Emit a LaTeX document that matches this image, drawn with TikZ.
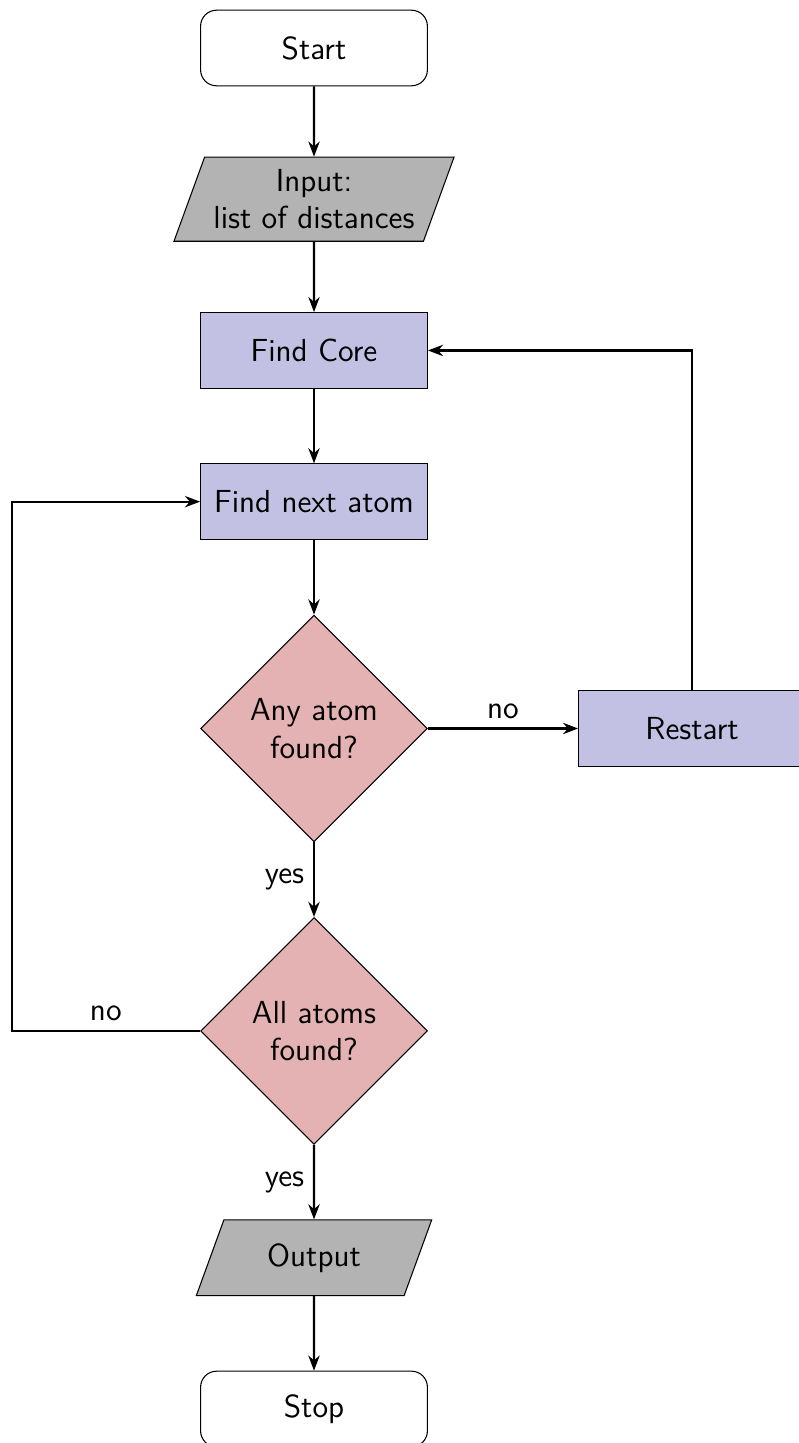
\documentclass[tikz,border=0pt]{standalone}
\usetikzlibrary{shapes.geometric,arrows.meta}
\definecolor{procfill}{RGB}{194,193,227}
\definecolor{decfill}{RGB}{228,178,178}
\definecolor{iofill}{RGB}{179,179,179}
\begin{document}
\begin{tikzpicture}[
  font=\sffamily\large,
  startstop/.style={rectangle, rounded corners=6pt, draw, minimum width=3cm, minimum height=1cm, align=center},
  process/.style={rectangle, draw, fill=procfill, minimum width=3cm, minimum height=1cm, align=center},
  io/.style={trapezium, trapezium left angle=70, trapezium right angle=110, draw, fill=iofill, minimum width=3cm, minimum height=1cm, align=center},
  decision/.style={diamond, draw, fill=decfill, minimum width=3cm, minimum height=3cm, aspect=1, inner sep=0pt, align=center},
  arr/.style={thick, -{Stealth[length=2mm,width=1.5mm]}}
]
\useasboundingbox (-4.153,0.635) rectangle (6.402,-18.45);
\node[startstop] (start) at (0,0) {Start};
\node[io, inner ysep=4.6pt] (in) at (0,-2) {Input:\\list of distances};
\node[process] (core) at (0,-4) {Find Core};
\node[process] (next) at (0,-6) {Find next atom};
\node[decision] (any) at (0,-9) {Any atom\\found?};
\node[process] (restart) at (5,-9) {Restart};
\node[decision] (all) at (0,-13) {All atoms\\found?};
\node[io] (out) at (0,-16) {Output};
\node[startstop] (stop) at (0,-18) {Stop};
\coordinate (lt) at (-4,-13);
\coordinate (lb) at (-4,-6);
\coordinate (rt) at (5,-4);

\draw[arr] (start) -- (in);
\draw[arr] (in) -- (core);
\draw[arr] (core) -- (next);
\draw[arr] (next) -- (any);
\draw[arr] (any) -- node[above] {no} (restart);
\draw[arr] (restart.north) -- (rt) -- (core.east);
\draw[arr] (any) -- node[left] {yes} (all);
\draw[arr] (all.west) -- node[above] {no} (lt) -- (lb) -- (next.west);
\draw[arr] (all) -- node[left] {yes} (out);
\draw[arr] (out) -- (stop);
\end{tikzpicture}
\end{document}
